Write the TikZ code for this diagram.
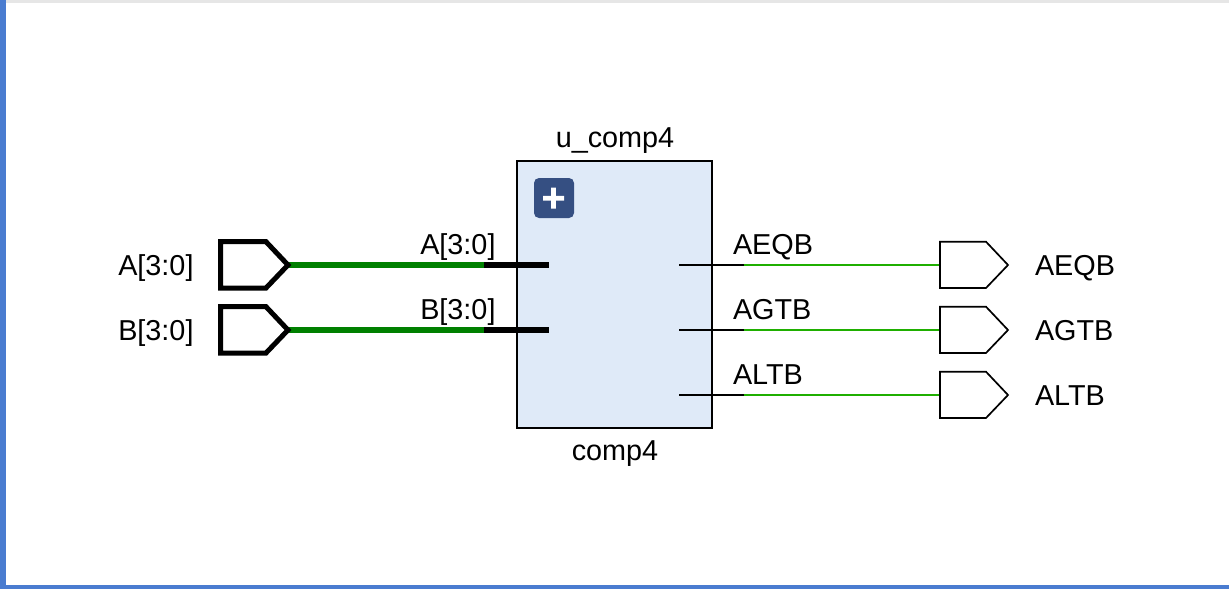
\documentclass[tikz,border=0pt]{standalone}
\usepackage{fontspec}
\setmainfont{Liberation Sans}
\definecolor{frameblue}{HTML}{4A7CD0}
\definecolor{framegrey}{HTML}{E6E6E6}
\definecolor{blockfill}{HTML}{DFEAF8}
\definecolor{btnblue}{HTML}{354F82}
\definecolor{busgreen}{HTML}{008000}
\definecolor{wiregreen}{HTML}{1FAF00}
\tikzset{
  lbl/.style={inner sep=0pt,outer sep=0pt,font=\fontsize{28.8}{29}\selectfont,text=black},
  lblw/.style={lbl,anchor=base west},
  lble/.style={lbl,anchor=base east},
  lblc/.style={lbl,anchor=base},
  busblack/.style={line width=5.5pt,black},
  busgrn/.style={line width=5.5pt,busgreen},
  wireblack/.style={line width=2pt,black},
  wiregrn/.style={line width=2pt,wiregreen},
  inport/.style={draw=black,line width=5pt,fill=white,miter limit=10},
  outport/.style={draw=black,line width=1.7pt,fill=white},
}
\begin{document}
\begin{tikzpicture}[x=1pt,y=-1pt]
\useasboundingbox (0,0) rectangle (1229,589);
\fill[white] (0,0) rectangle (1229,589);
\fill[framegrey] (0,0) rectangle (1229,3);
\fill[frameblue] (0,585) rectangle (1229,589);
\fill[frameblue] (0,0) rectangle (6,589);
% block
\node[draw=black,line width=2pt,fill=blockfill,minimum width=195pt,minimum height=267pt,inner sep=0pt,outer sep=0pt,anchor=north west] (blk) at (516.7,160.7) {};
\node[lblc] (inst) at (615,147.5) {u\_comp4};
\node[lblc] (cell) at (615,460) {comp4};
\node[fill=btnblue,rounded corners=5pt,minimum width=40pt,minimum height=40pt,inner sep=0pt] (btn) at (554,198) {};
\fill[white] (543,195.9) rectangle (564,200.5) (551.2,187.7) rectangle (555.8,208.7);
% coordinates
\coordinate (inA) at (289,265); \coordinate (inB) at (289,330);
\coordinate (jA) at (484,265);  \coordinate (jB) at (484,330);
\coordinate (pinA) at (549,265); \coordinate (pinB) at (549,330);
\coordinate (pinE) at (679,265); \coordinate (pinG) at (679,330); \coordinate (pinL) at (679,395);
\coordinate (jE) at (744,265); \coordinate (jG) at (744,330); \coordinate (jL) at (744,395);
\coordinate (outE) at (940,265); \coordinate (outG) at (940,330); \coordinate (outL) at (940,395);
% wires
\draw[busgrn] (inA) -- (jA);
\draw[busblack] (jA) -- (pinA);
\draw[busgrn] (inB) -- (jB);
\draw[busblack] (jB) -- (pinB);
\draw[wireblack] (pinE) -- (jE);
\draw[wiregrn] (jE) -- (outE);
\draw[wireblack] (pinG) -- (jG);
\draw[wiregrn] (jG) -- (outG);
\draw[wireblack] (pinL) -- (jL);
\draw[wiregrn] (jL) -- (outL);
% input ports
\draw[inport] (220.5,241.7) -- (266,241.7) -- (288,265) -- (266,288) -- (220.5,288) -- cycle;
\draw[inport] (220.5,306.7) -- (266,306.7) -- (288,330) -- (266,353) -- (220.5,353) -- cycle;
% output ports
\draw[outport] (940,241.7) -- (986,241.7) -- (1008,265) -- (986,288) -- (940,288) -- cycle;
\draw[outport] (940,306.7) -- (986,306.7) -- (1008,330) -- (986,353) -- (940,353) -- cycle;
\draw[outport] (940,371.7) -- (986,371.7) -- (1008,395) -- (986,418) -- (940,418) -- cycle;
% labels
\node[lble] (lA) at (193.5,275.5) {A[3:0]};
\node[lble] (lB) at (193.5,340.5) {B[3:0]};
\node[lble] (wA) at (495.5,254.3) {A[3:0]};
\node[lble] (wB) at (495.5,319.3) {B[3:0]};
\node[lblw] (wE) at (733,254.3) {AEQB};
\node[lblw] (wG) at (733,319.3) {AGTB};
\node[lblw] (wL) at (733,384.3) {ALTB};
\node[lblw] (rE) at (1035,275) {AEQB};
\node[lblw] (rG) at (1035,340) {AGTB};
\node[lblw] (rL) at (1035,405) {ALTB};
\end{tikzpicture}
\end{document}
